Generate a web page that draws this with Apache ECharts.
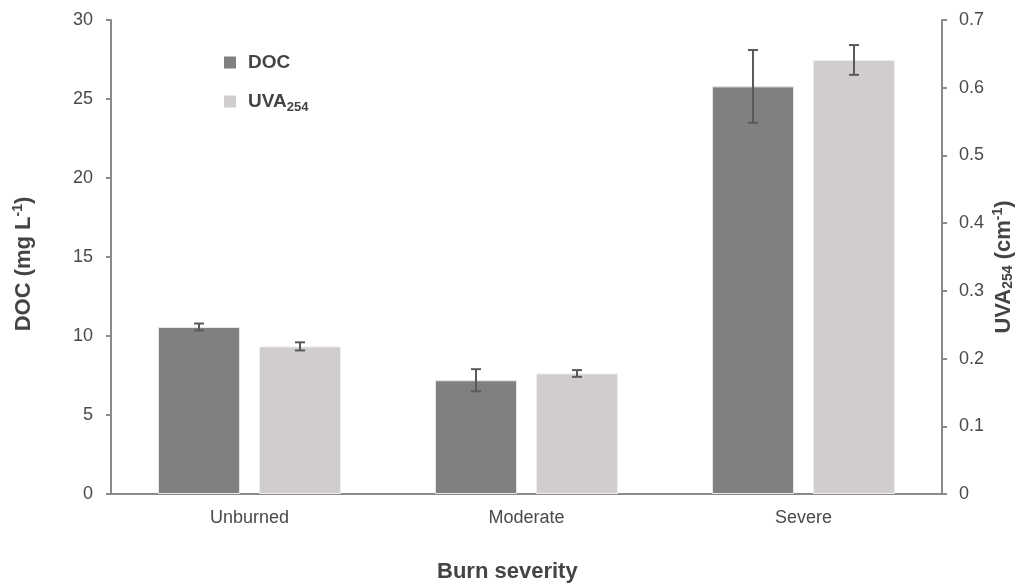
<!DOCTYPE html>
<html><head><meta charset="utf-8">
<script src="https://cdn.jsdelivr.net/npm/echarts@6/dist/echarts.min.js"></script>
<style>html,body{margin:0;padding:0;background:#fff}#c{width:1018px;height:584px}</style>
</head><body><div id="c"></div>
<script>
var categories = ['Unburned', 'Moderate', 'Severe'];
var docValues = [10.57, 7.2, 25.8];
var docErrors = [0.22, 0.7, 2.3];
var uvaValues = [0.218, 0.178, 0.641];
var uvaErrors = [0.006, 0.005, 0.022];
var leftTicks = [0, 5, 10, 15, 20, 25, 30];
var rightTicks = [0, 0.1, 0.2, 0.3, 0.4, 0.5, 0.6, 0.7];

var chart = echarts.init(document.getElementById('c'));
var BW = 82, GAP = 19;
var FF = 'Liberation Sans, Arial';
function errSeries(vals, errs, yIdx, dir) {
  return {
    type: 'custom', yAxisIndex: yIdx, z: 10, silent: true,
    data: vals.map(function (v, i) { return [i, v - errs[i], v + errs[i]]; }),
    renderItem: function (params, api) {
      var lo = api.coord([api.value(0), api.value(1)]);
      var hi = api.coord([api.value(0), api.value(2)]);
      var x = lo[0] + dir * (BW + GAP) / 2;
      var cw = 5;
      var st = { stroke: '#5a5a5a', lineWidth: 2 };
      return { type: 'group', children: [
        { type: 'line', shape: { x1: x, y1: lo[1], x2: x, y2: hi[1] }, style: st },
        { type: 'line', shape: { x1: x - cw, y1: lo[1], x2: x + cw, y2: lo[1] }, style: st },
        { type: 'line', shape: { x1: x - cw, y1: hi[1], x2: x + cw, y2: hi[1] }, style: st }
      ]};
    }
  };
}
var labelColor = '#4a4a4a';
var axisLineStyle = { color: '#8a8a8a', width: 2 };
chart.setOption({
  animation: false,
  grid: { left: 111, right: 76, top: 20, bottom: 90 },
  legend: {
    orient: 'vertical', left: 219, top: 48, itemGap: 20,
    icon: 'rect', itemWidth: 12, itemHeight: 12,
    itemStyle: { borderWidth: 0 },
    textStyle: { fontFamily: FF, fontWeight: 'bold', fontSize: 19, color: '#444', padding: [0, 0, 0, 7],
      rich: { b: { fontFamily: FF, fontWeight: 'bold', fontSize: 19, color: '#444' },
              s: { fontFamily: FF, fontWeight: 'bold', fontSize: 13, color: '#444', padding: [11, 0, 0, 0] } } },
    formatter: function (n) { return n === 'UVA254' ? '{b|UVA}{s|254}' : n; },
    data: ['DOC', 'UVA254']
  },
  xAxis: {
    type: 'category', data: categories,
    axisLine: { lineStyle: axisLineStyle },
    axisTick: { show: false },
    axisLabel: { color: labelColor, fontSize: 18, fontFamily: FF, margin: 15 }
  },
  yAxis: [
    { type: 'value', min: 0, max: 30, interval: 5, position: 'left',
      axisLine: { show: true, lineStyle: axisLineStyle },
      axisTick: { show: true, length: 5, lineStyle: axisLineStyle },
      splitLine: { show: false },
      axisLabel: { color: labelColor, fontSize: 18, fontFamily: FF, margin: 18,
        formatter: function (v) { return leftTicks.indexOf(v) >= 0 ? String(v) : ''; } } },
    { type: 'value', min: 0, max: 0.7, interval: 0.1, position: 'right',
      axisLine: { show: true, lineStyle: axisLineStyle },
      axisTick: { show: true, length: 5, lineStyle: axisLineStyle },
      splitLine: { show: false },
      axisLabel: { color: labelColor, fontSize: 18, fontFamily: FF, margin: 17,
        formatter: function (v) { var r = Math.round(v * 10) / 10; return rightTicks.indexOf(r) >= 0 ? (r === 0 ? '0' : r.toFixed(1)) : ''; } } }
  ],
  series: [
    { name: 'DOC', type: 'bar', data: docValues, yAxisIndex: 0, barWidth: BW, barGap: (GAP / BW * 100).toFixed(1) + '%',
      itemStyle: { color: '#808080', borderColor: '#e6e6e6', borderWidth: 1 } },
    { name: 'UVA254', type: 'bar', data: uvaValues, yAxisIndex: 1, barWidth: BW,
      itemStyle: { color: '#d1cdcd', borderColor: '#eeeeee', borderWidth: 1 } },
    errSeries(docValues, docErrors, 0, -1),
    errSeries(uvaValues, uvaErrors, 1, 1)
  ],
  graphic: [
    { type: 'text', left: 437, top: 561, style: { text: 'Burn severity', fontFamily: FF, fontWeight: 'bold', fontSize: 22, fill: '#444' } },
    { type: 'text', x: 24, y: 264, rotation: Math.PI / 2,
      style: { text: '{a|DOC (mg L}{s|-1}{a|)}', align: 'center', verticalAlign: 'middle',
        rich: { a: { fontFamily: FF, fontWeight: 'bold', fontSize: 22, fill: '#444', lineHeight: 26 },
                s: { fontFamily: FF, fontWeight: 'bold', fontSize: 14, fill: '#444', lineHeight: 26, padding: [0, 0, 11, 0] } } } },
    { type: 'text', x: 1004, y: 267, rotation: Math.PI / 2,
      style: { text: '{a|UVA}{b|254}{a| (cm}{s|-1}{a|)}', align: 'center', verticalAlign: 'middle',
        rich: { a: { fontFamily: FF, fontWeight: 'bold', fontSize: 22, fill: '#444', lineHeight: 26 },
                b: { fontFamily: FF, fontWeight: 'bold', fontSize: 14, fill: '#444', lineHeight: 26, padding: [9, 0, 0, 0] },
                s: { fontFamily: FF, fontWeight: 'bold', fontSize: 14, fill: '#444', lineHeight: 26, padding: [0, 0, 11, 0] } } } }
  ]
});
</script></body></html>
